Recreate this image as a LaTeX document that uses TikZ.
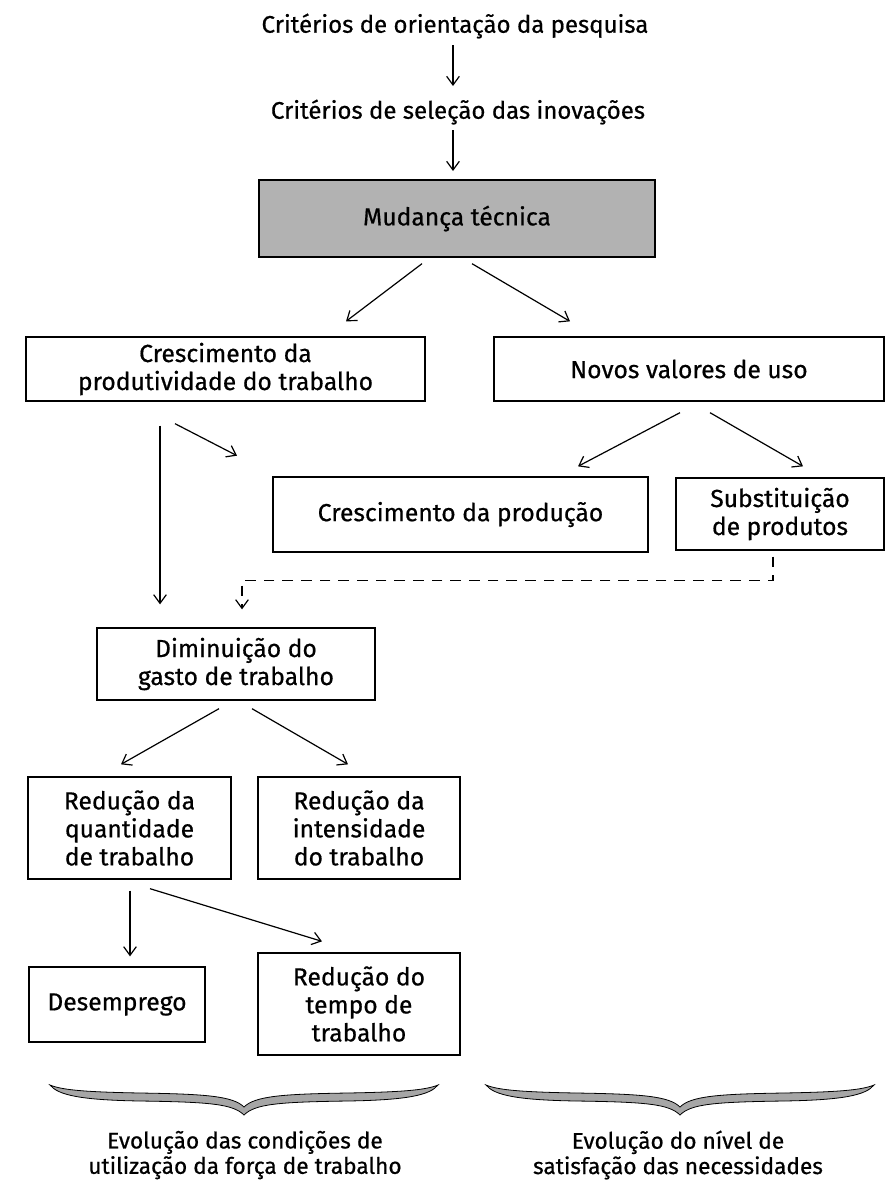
\documentclass[tikz,border=0pt]{standalone}
\usepackage{fontspec}
\setmainfont{Fira Sans}[UprightFeatures={FakeBold=0.6}]
\usetikzlibrary{arrows.meta,calc}
\begin{document}
\begin{tikzpicture}[x=0.75pt,y=-0.75pt,
  box/.style={draw, line width=1pt, align=center, inner sep=0pt, font=\fontsize{18.5}{21}\selectfont},
  wh/.style 2 args={minimum width=#1*0.75pt, minimum height=#2*0.75pt},
  arr/.style={-{Straight Barb[length=6.5pt,width=9.5pt]}, line width=0.9pt},
  dsh/.style={dash pattern=on 8pt off 6pt},
  ttl/.style={font=\fontsize{18}{20}\selectfont, inner sep=1pt},
  foot/.style={align=center, font=\fontsize{17}{19}\selectfont, inner sep=0pt},
  brc/.style={fill=black!35, draw=black, line width=0.6pt}]
\useasboundingbox (0,0) rectangle (896,1186);
\fill[white] (0,0) rectangle (896,1186);

\node[ttl] (t1) at (455,26) {Critérios de orientação da pesquisa};
\node[ttl] (t2) at (458,112) {Critérios de seleção das inovações};
\node[box, fill=black!30, wh={396}{77}] (tec) at (457,218.5) {Mudança técnica};
\node[box, wh={399}{64}] (cp) at (225.5,369) {Crescimento da\\produtividade do trabalho};
\node[box, wh={390}{64}] (nv) at (689,369) {Novos valores de uso};
\node[box, wh={375}{75}] (cpr) at (460.5,514.5) {Crescimento da produção};
\node[box, wh={208}{72}] (sp) at (780,514) {Substituição\\de produtos};
\node[box, wh={278}{72}] (dg) at (236,664) {Diminuição do\\gasto de trabalho};
\node[box, wh={203}{102}] (rq) at (129.5,828) {Redução da\\quantidade\\de trabalho};
\node[box, wh={202}{102}] (ri) at (359,828) {Redução da\\intensidade\\do trabalho};
\node[box, wh={176}{75}] (de) at (117,1004.5) {Desemprego};
\node[box, wh={202}{102}] (rt) at (359,1004) {Redução do\\tempo de\\trabalho};
\node[foot] (fl) at (245,1155) {Evolução das condições de\\utilização da força de trabalho};
\node[foot] (fr) at (678,1155) {Evolução do nível de\\satisfação das necessidades};

\draw[arr] ($(t1)+(-2,19)$) -- ($(t1)+(-2,60)$);
\draw[arr] ($(t2)+(-5,18)$) -- ($(t2)+(-5,59)$);
\draw[arr] ($(tec.south)+(-35,6)$) -- ($(cp.north)+(120.5,-15)$);
\draw[arr] ($(tec.south)+(15,6)$) -- ($(nv.north)+(-119,-15)$);
\draw[arr] ($(cp.south)+(-65.5,24)$) -- ($(dg.north)+(-76,-23)$);
\coordinate (ce) at ($(cp.south)+(11.5,54)$);
\draw[arr] ($(cp.south)+(-50.5,22)$) -- (ce);
\draw[arr] ($(nv.south)+(-9,11)$) -- ($(cpr.north)+(117.5,-10)$);
\draw[arr] ($(nv.south)+(21,11)$) -- ($(sp.north)+(23,-11)$);
\draw[arr, dsh] ($(sp.south)+(-7,6)$) -- ++(0,24) -| ($(dg.north)+(6,-18)$);
\draw[arr] ($(dg.south)+(-17,8)$) -- ($(rq.north)+(-8.5,-12)$);
\draw[arr] ($(dg.south)+(16,8)$) -- ($(ri.north)+(-11,-12)$);
\draw[arr] ($(rq.south)+(0.5,11)$) -- ($(de.north)+(13,-10)$);
\draw[arr] ($(rq.south)+(20.5,9)$) -- ($(rt.north)+(-37,-11)$);

\begin{scope}[shift={(50,1085)}]
\filldraw[brc] (0,0) .. controls (8,10) and (30,15) .. (90,16) .. controls (160,17) and (183,19) .. (194,30) .. controls (205,19) and (228,17) .. (298,16) .. controls (358,15) and (380,10) .. (388,0) .. controls (376,5) and (353,7) .. (298,8) .. controls (233,9) and (205,11) .. (194,22) .. controls (183,11) and (155,9) .. (90,8) .. controls (35,7) and (12,5) .. (0,0) -- cycle;
\end{scope}
\begin{scope}[shift={(486,1085)}]
\filldraw[brc] (0,0) .. controls (8,10) and (30,15) .. (90,16) .. controls (160,17) and (183,19) .. (194,30) .. controls (205,19) and (228,17) .. (298,16) .. controls (358,15) and (380,10) .. (388,0) .. controls (376,5) and (353,7) .. (298,8) .. controls (233,9) and (205,11) .. (194,22) .. controls (183,11) and (155,9) .. (90,8) .. controls (35,7) and (12,5) .. (0,0) -- cycle;
\end{scope}
\end{tikzpicture}
\end{document}
